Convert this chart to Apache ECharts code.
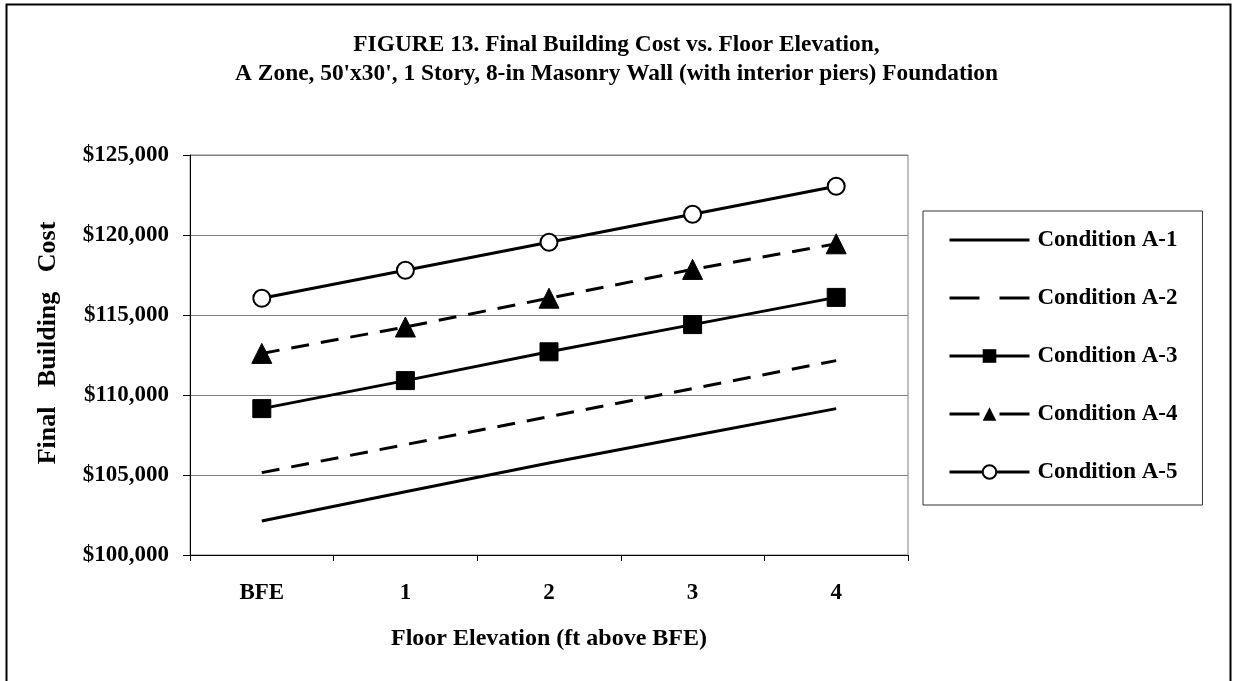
<!DOCTYPE html>
<html>
<head>
<meta charset="utf-8">
<script src="https://cdn.jsdelivr.net/npm/echarts@6/dist/echarts.min.js"></script>
<style>
html,body{margin:0;padding:0;background:#fff;}
#chart{width:1233px;height:681px;}
</style>
</head>
<body>
<div id="chart"></div>
<script>
const titleLines = ["FIGURE 13. Final Building Cost vs. Floor Elevation,", "A Zone, 50'x30', 1 Story, 8-in Masonry Wall (with interior piers) Foundation"];
const categories = ["BFE", "1", "2", "3", "4"];
const seriesNames = ["Condition A-1", "Condition A-2", "Condition A-3", "Condition A-4", "Condition A-5"];
const condA1 = [102125, 103950, 105750, 107450, 109150];
const condA2 = [105150, 106900, 108650, 110400, 112150];
const condA3 = [109150, 110900, 112700, 114400, 116100];
const condA4 = [112600, 114250, 116050, 117850, 119450];
const condA5 = [116050, 117800, 119550, 121300, 123050];
const yMin = 100000, yMax = 125000, yStep = 5000;
const xAxisName = "Floor Elevation (ft above BFE)";
const yAxisName = "Final   Building   Cost";

const FONT = "'Liberation Serif', 'Times New Roman', serif";
const chart = echarts.init(document.getElementById('chart'), null, {renderer: 'canvas'});
const lineW = 3;
const dash = [18, 12];
function mk(name, data, symbol, size, dashed, extra) {
  return Object.assign({
    name: name, type: 'line', data: data,
    symbol: symbol, symbolSize: size, showSymbol: symbol !== 'none',
    lineStyle: {color: '#000', width: lineW, type: dashed ? dash : 'solid'},
    itemStyle: {color: '#000', borderColor: '#000'},
    emphasis: {disabled: true}, animation: false, z: 3
  }, extra || {});
}
const legendDash = [30, 20];
const legendData = seriesNames.map((n, i) => {
  const item = {name: n};
  if (i < 2) item.itemStyle = {opacity: 0};
  if (i === 1 || i === 3) item.lineStyle = {type: legendDash};
  return item;
});
const option = {
  animation: false,
  backgroundColor: '#fff',
  textStyle: {fontFamily: FONT},
  title: {
    text: titleLines.join('\n'), left: 'center', top: 25,
    textStyle: {fontFamily: FONT, fontWeight: 'bold', fontSize: 23.4, color: '#000', lineHeight: 29}
  },
  grid: {left: 190, right: 325, top: 155, bottom: 126, show: true, borderColor: '#808080', borderWidth: 1, backgroundColor: 'transparent'},
  legend: {
    orient: 'vertical', left: 923, top: 211,
    data: legendData,
    itemWidth: 80, itemHeight: 17, itemGap: 34,
    padding: [17, 25, 21, 25],
    borderColor: '#333', borderWidth: 1, backgroundColor: '#fff',
    lineStyle: {width: 3, color: '#000'},
    textStyle: {fontFamily: FONT, fontWeight: 'bold', fontSize: 23, lineHeight: 24, color: '#000', padding: [0,0,0,3]},
    selectedMode: false
  },
  xAxis: {
    type: 'category', data: categories, boundaryGap: true,
    name: xAxisName, nameLocation: 'middle', nameGap: 72,
    nameTextStyle: {fontFamily: FONT, fontWeight: 'bold', fontSize: 24, color: '#000'},
    axisLine: {lineStyle: {color: '#000', width: 1}},
    axisTick: {show: true, length: 6, lineStyle: {color: '#000'}},
    axisLabel: {fontFamily: FONT, fontWeight: 'bold', fontSize: 23, color: '#000', margin: 27},
    splitLine: {show: false}
  },
  yAxis: {
    type: 'value', min: yMin, max: yMax, interval: yStep,
    name: yAxisName, nameLocation: 'middle', nameGap: 129, nameRotate: 90,
    nameTextStyle: {fontFamily: FONT, fontWeight: 'bold', fontSize: 26, color: '#000', padding: [0, 0, 0, 24]},
    axisLine: {show: true, lineStyle: {color: '#000', width: 1}},
    axisTick: {show: true, length: 7, lineStyle: {color: '#000'}},
    axisLabel: {fontFamily: FONT, fontWeight: 'bold', fontSize: 23, color: '#000', margin: 21,
      formatter: v => '$' + v.toLocaleString('en-US')},
    splitLine: {show: true, lineStyle: {color: '#808080', width: 1}}
  },
  graphic: [{
    type: 'rect', left: 4, top: 2, silent: true,
    shape: {width: 1224, height: 700},
    style: {fill: 'none', stroke: '#000', lineWidth: 2}, z: 100
  }],
  series: [
    mk(seriesNames[0], condA1, 'none', 0, false),
    mk(seriesNames[1], condA2, 'none', 0, true),
    mk(seriesNames[2], condA3, 'rect', 18, false),
    mk(seriesNames[3], condA4, 'triangle', 20, true),
    mk(seriesNames[4], condA5, 'circle', 17, false, {itemStyle: {color: '#fff', borderColor: '#000', borderWidth: 2}})
  ]
};
chart.setOption(option);
</script>
</body>
</html>
